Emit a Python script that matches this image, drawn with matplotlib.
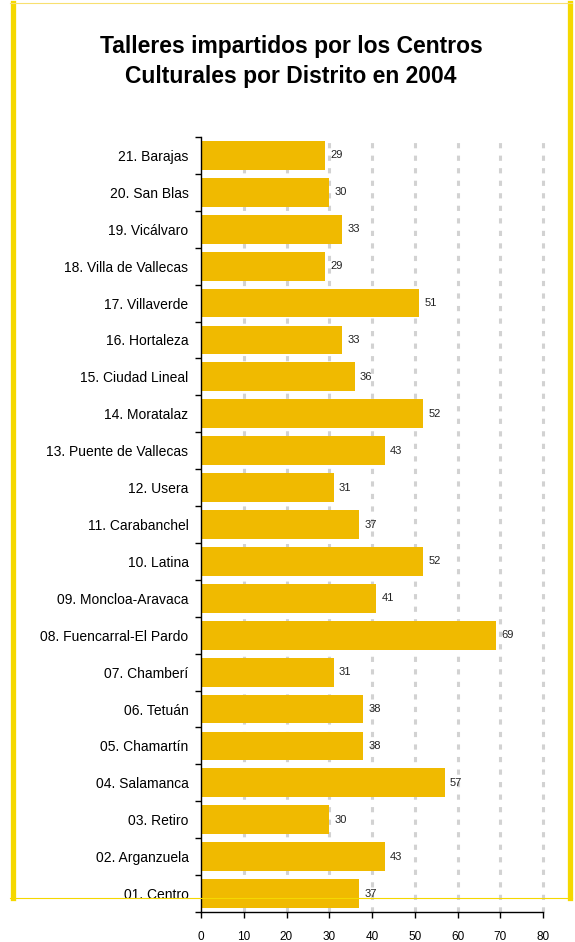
import matplotlib

matplotlib.use("Agg")
import matplotlib.pyplot as plt
from matplotlib.lines import Line2D
import numpy as np

plt.rcParams["font.family"] = ["Liberation Sans", "DejaVu Sans"]

districts = [
    "01. Centro", "02. Arganzuela", "03. Retiro", "04. Salamanca", "05. Chamartín",
    "06. Tetuán", "07. Chamberí", "08. Fuencarral-El Pardo", "09. Moncloa-Aravaca",
    "10. Latina", "11. Carabanchel", "12. Usera", "13. Puente de Vallecas",
    "14. Moratalaz", "15. Ciudad Lineal", "16. Hortaleza", "17. Villaverde",
    "18. Villa de Vallecas", "19. Vicálvaro", "20. San Blas", "21. Barajas",
]
talleres = [37, 43, 30, 57, 38, 38, 31, 69, 41, 52, 37, 31, 43, 52, 36, 33, 51, 29, 33, 30, 29]
x_ticks = [0, 10, 20, 30, 40, 50, 60, 70, 80]

W, H = 575, 942
fig = plt.figure(figsize=(W / 100, H / 100), dpi=100)
ax = fig.add_axes([201 / W, 1 - 912 / H, (543 - 201) / W, (912 - 137) / H])

y = np.arange(len(districts))
ax.barh(y, talleres, height=0.78, color="#F0BA00", zorder=2)
for yi, v in zip(y, talleres):
    ax.text(v + 1.2, yi, str(v), va="center", ha="left", fontsize=8, color="#222222")

ax.set_xlim(0, 80)
ax.set_ylim(-0.5, len(districts) - 0.5)
ax.set_xticks(x_ticks)
ax.set_xticklabels([str(t) for t in x_ticks], fontsize=8.5)
ax.set_yticks(y)
ax.set_yticklabels(districts, fontsize=10)
ax.set_yticks(np.arange(-0.5, len(districts)), minor=True)
ax.tick_params(axis="y", which="major", length=0, pad=9)
ax.tick_params(axis="y", which="minor", length=4, direction="out", width=1)
ax.tick_params(axis="x", length=4, direction="out", width=1, pad=10)

for t in x_ticks[1:]:
    ax.axvline(t, color="#D2D2D2", lw=2.2, linestyle=(0, (1.7, 2.4)), zorder=1, clip_on=False)

for side in ["top", "right"]:
    ax.spines[side].set_visible(False)
ax.spines["left"].set_linewidth(1)
ax.spines["bottom"].set_linewidth(1)

fig.text(291 / W, 1 - 46 / H, "Talleres impartidos por los Centros", ha="center", va="center",
         fontsize=16.5, fontweight="bold")
fig.text(291 / W, 1 - 76 / H, "Culturales por Distrito en 2004", ha="center", va="center",
         fontsize=16.5, fontweight="bold")

# yellow frame
frame = "#F5D800"
fig.add_artist(Line2D([12.5 / W, 12.5 / W], [1 - 898 / H, 1 - 3 / H], color=frame, lw=3.8, zorder=10))
fig.add_artist(Line2D([570 / W, 570 / W], [1 - 898 / H, 1 - 3 / H], color=frame, lw=3.8, zorder=10))
fig.add_artist(Line2D([10 / W, 572 / W], [1 - 3 / H, 1 - 3 / H], color="#F8E070", lw=0.8, zorder=10))
fig.add_artist(Line2D([10 / W, 572 / W], [1 - 898 / H, 1 - 898 / H], color="#F5D800", lw=0.8, zorder=10))

fig.savefig("out.png", dpi=100)
